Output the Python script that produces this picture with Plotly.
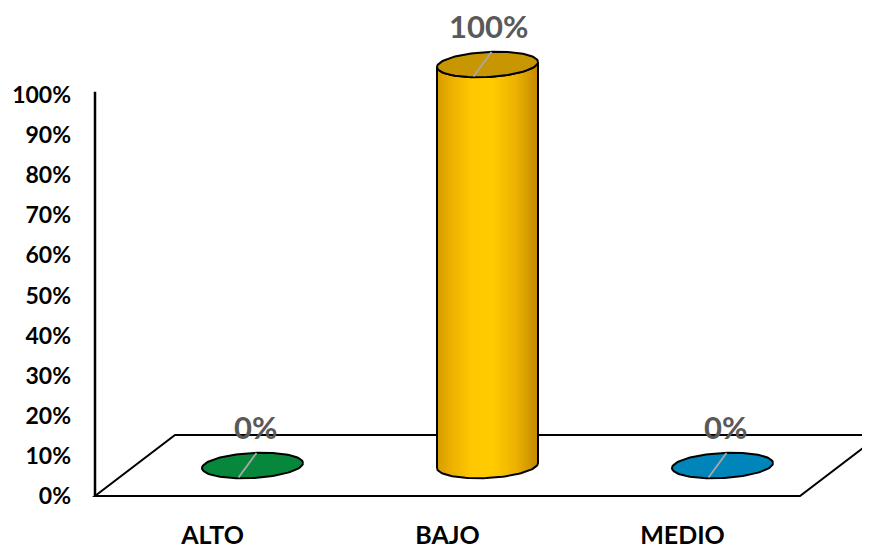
import numpy as np
import plotly.graph_objects as go

# ---------------- data ----------------
categories = ["ALTO", "BAJO", "MEDIO"]
values = [0.0, 1.0, 0.0]
value_labels = ["0%", "100%", "0%"]
tick_values = [0.0, 0.1, 0.2, 0.3, 0.4, 0.5, 0.6, 0.7, 0.8, 0.9, 1.0]
tick_labels = ["0%", "10%", "20%", "30%", "40%", "50%", "60%", "70%", "80%", "90%", "100%"]
top_colors = ["#07873C", "#C89600", "#0085BA"]

# ---------------- geometry / style ----------------
# the page body has an 8px default margin, so the figure is 8px smaller
W, H = 862, 541
ML, MR, MT, MB = 81, 0, 22, 50
PX_X = 235.0   # pixels per category unit
PX_Y = 401.0   # pixels per value unit
x0 = -0.5 - 6 / PX_X
x1 = x0 + (W - ML - MR) / PX_X
y0 = -3 / PX_Y
y1 = y0 + (H - MT - MB) / PX_Y

DEPTH_X = 80 / PX_X      # full floor depth
DEPTH_Y = 61 / PX_Y
CX = DEPTH_X / 2         # cylinders sit at mid-depth
CY = DEPTH_Y / 2
A = 50.5                 # ellipse half width (px)
B = 12.5                 # ellipse half height (px)
TILT = 0.05
FONT = "Lato, Liberation Sans, sans-serif"


def ellipse(cx, cy, t):
    px = A * np.cos(t)
    py = B * np.sin(t) + TILT * px
    return cx + px / PX_X, cy + py / PX_Y


fig = go.Figure()

n = len(categories)
floor_path = (f"M {-0.5},{0} L {n - 0.5},{0} L {n - 0.5 + DEPTH_X},{DEPTH_Y} "
              f"L {-0.5 + DEPTH_X},{DEPTH_Y} Z")
shapes = [
    dict(type="path", path=floor_path, xref="x", yref="y", layer="below",
         line=dict(color="black", width=2), fillcolor="white"),
    dict(type="line", xref="x", yref="y", x0=-0.5, x1=-0.5, y0=0, y1=1.008,
         line=dict(color="black", width=2.5), layer="above"),
]

annotations = []
for i, (cat, v) in enumerate(zip(categories, values)):
    cx = i + CX
    by = CY
    ty = CY + v
    if v > 0:
        tb = np.linspace(np.pi, 2 * np.pi, 60)
        bx, byy = ellipse(cx, by, tb)
        tt = np.linspace(2 * np.pi, np.pi, 60)
        tx, tyy = ellipse(cx, ty, tt)
        xs = np.concatenate([bx, tx, bx[:1]])
        ys = np.concatenate([byy, tyy, byy[:1]])
        fig.add_trace(go.Scatter(
            x=xs, y=ys, mode="lines", fill="toself",
            line=dict(color="black", width=2),
            fillgradient=dict(type="horizontal", colorscale=[
                [0.0, "#D49B00"], [0.12, "#E9AE00"], [0.35, "#FFC800"],
                [0.55, "#FFCB00"], [0.78, "#EDB200"], [1.0, "#C28900"]]),
            hoverinfo="skip", showlegend=False))
    t = np.linspace(0, 2 * np.pi, 120)
    ex, ey = ellipse(cx, ty, t)
    fig.add_trace(go.Scatter(
        x=ex, y=ey, mode="lines", fill="toself", fillcolor=top_colors[i],
        line=dict(color="black", width=2), hoverinfo="skip", showlegend=False,
        name=cat))
    fig.add_trace(go.Scatter(
        x=[cx - 14 / PX_X, cx + 4 / PX_X], y=[ty - 12 / PX_Y, ty + 12.5 / PX_Y],
        mode="lines", line=dict(color="#A6A6A6", width=2),
        hoverinfo="skip", showlegend=False))
    annotations.append(dict(
        x=cx, y=ty, xref="x", yref="y", text=value_labels[i], showarrow=False,
        yshift=39, xshift=3 if v == 0 else 1,
        font=dict(family=FONT, size=31, color="#595959", weight="bold")))

fig.update_layout(
    width=W, height=H,
    margin=dict(l=ML, r=MR, t=MT, b=MB, autoexpand=False),
    paper_bgcolor="white", plot_bgcolor="white",
    shapes=shapes, annotations=annotations,
    showlegend=False,
    xaxis=dict(range=[x0, x1], tickmode="array", tickvals=list(range(n)),
               ticktext=categories, showgrid=False, zeroline=False,
               showline=False, ticks="", ticklabelstandoff=19, automargin=False,
               tickfont=dict(family=FONT, size=25, color="black", weight="bold"),
               fixedrange=True),
    yaxis=dict(range=[y0, y1], tickmode="array", tickvals=tick_values,
               ticktext=tick_labels, showgrid=False, zeroline=False,
               showline=False, ticks="", ticklabelstandoff=17, automargin=False,
               tickfont=dict(family=FONT, size=23, color="black", weight="bold"),
               fixedrange=True),
)

fig.write_html("out.html")
